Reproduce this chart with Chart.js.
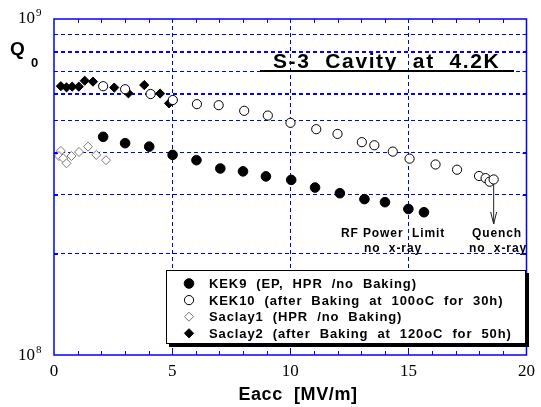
<!DOCTYPE html>
<html><head><meta charset="utf-8">
<script src="https://cdn.jsdelivr.net/npm/chart.js@4/dist/chart.umd.min.js"></script>
<style>html,body{margin:0;padding:0;background:#fff}#wrap{width:541px;height:407px;position:relative}</style>
</head><body><div id="wrap"><canvas id="c" width="541" height="407"></canvas></div>
<script>
// ---- data (Eacc in MV/m, Q0) ----
const kek9E  = [2.08, 3.01, 4.03, 5.02, 6.03, 7.04, 8.00, 8.97, 10.04, 11.05, 12.10, 13.14, 14.01, 15.00, 15.66];
const kek9Q  = [4.46e8, 4.27e8, 4.17e8, 3.94e8, 3.80e8, 3.59e8, 3.52e8, 3.40e8, 3.32e8, 3.15e8, 3.03e8, 2.91e8, 2.85e8, 2.72e8, 2.66e8];
const kek10E = [2.08, 3.01, 4.09, 5.03, 6.05, 6.97, 8.05, 9.05, 10.01, 11.10, 12.00, 13.03, 13.56, 14.34, 15.05, 16.15, 17.06, 17.99, 18.27, 18.44, 18.61];
const kek10Q = [6.31e8, 6.18e8, 5.98e8, 5.74e8, 5.58e8, 5.54e8, 5.33e8, 5.16e8, 4.91e8, 4.70e8, 4.55e8, 4.30e8, 4.21e8, 4.03e8, 3.84e8, 3.69e8, 3.56e8, 3.41e8, 3.36e8, 3.28e8, 3.33e8];
const saclay1E = [0.29, 0.21, 0.39, 0.53, 0.74, 1.06, 1.44, 1.79, 2.20];
const saclay1Q = [4.05e8, 3.91e8, 3.85e8, 3.72e8, 3.91e8, 4.02e8, 4.17e8, 3.94e8, 3.80e8];
const saclay2E = [0.29, 0.53, 0.77, 1.05, 1.30, 1.65, 2.55, 3.15, 3.82, 4.49, 4.87];
const saclay2Q = [6.31e8, 6.26e8, 6.29e8, 6.29e8, 6.55e8, 6.51e8, 6.25e8, 6.01e8, 6.36e8, 6.00e8, 5.61e8];
const seriesLabels = ["KEK9  (EP,  HPR  /no  Baking)", "KEK10  (after  Baking  at  100oC  for  30h)", "Saclay1  (HPR  /no  Baking)", "Saclay2  (after  Baking  at  120oC  for  50h)"];
const xTickLabels = [0, 5, 10, 15, 20];
const yGridValues = [1e8, 2e8, 3e8, 4e8, 5e8, 6e8, 7e8, 8e8, 9e8, 1e9];
const yTickLabels = [["10","8"], ["10","9"]];
const titleText = "S-3  Cavity  at  4.2K";
const xTitle = "Eacc  [MV/m]";
const notes = [["RF Power  Limit", "no  x-ray"], ["Quench", "no  x-ray"]];

const BLUE = '#0000ff';
const SANS = '"Liberation Sans", Arial, sans-serif';
const SERIF = '"Liberation Serif", "Times New Roman", serif';
const pts = (xs, ys) => xs.map((x, i) => ({x, y: ys[i]}));

const styles = [
  {pointStyle:'circle', radius:4.8, backgroundColor:'#000', borderColor:'#000', borderWidth:1},
  {pointStyle:'circle', radius:4.6, backgroundColor:'#fff', borderColor:'#000', borderWidth:1},
  {pointStyle:'rectRot', radius:4.5, backgroundColor:'#fff', borderColor:'#777', borderWidth:1},
  {pointStyle:'rectRot', radius:4.6, backgroundColor:'#000', borderColor:'#000', borderWidth:1}
];
const dataSets = [pts(kek9E,kek9Q), pts(kek10E,kek10Q), pts(saclay1E,saclay1Q), pts(saclay2E,saclay2Q)];

const decor = {
  id: 'decor',
  afterDraw(chart) {
    const ctx = chart.ctx, a = chart.chartArea, xs = chart.scales.x, ys = chart.scales.y;
    ctx.save();
    // frame
    ctx.strokeStyle = BLUE; ctx.lineWidth = 1.5; ctx.setLineDash([]);
    ctx.strokeRect(a.left, a.top, a.right - a.left, a.bottom - a.top);
    // minor ticks (inward)
    ctx.lineWidth = 1;
    ctx.beginPath();
    for (let v = 1; v < 20; v++) {
      const px = Math.round(xs.getPixelForValue(v)) + 0.5;
      ctx.moveTo(px, a.bottom); ctx.lineTo(px, a.bottom - 4);
      ctx.moveTo(px, a.top); ctx.lineTo(px, a.top + 4);
    }
    yGridValues.slice(1, -1).forEach(v => {
      const py = Math.round(ys.getPixelForValue(v)) + 0.5;
      ctx.moveTo(a.left, py); ctx.lineTo(a.left + 4, py);
      ctx.moveTo(a.right, py); ctx.lineTo(a.right - 4, py);
    });
    ctx.stroke();
    // y tick labels 10^8, 10^9
    ctx.fillStyle = '#000'; ctx.textBaseline = 'alphabetic'; ctx.textAlign = 'left';
    [1e8, 1e9].forEach((v, i) => {
      const py = ys.getPixelForValue(v);
      const base = i === 0 ? py + 5 : py + 4;
      ctx.font = '17px ' + SERIF;
      ctx.fillText(yTickLabels[i][0], 18, base);
      ctx.font = '11px ' + SERIF;
      ctx.fillText(yTickLabels[i][1], 36, base - 7);
    });
    // y title Q0
    ctx.font = 'bold 19px ' + SANS;
    ctx.fillText('Q', 10, 55);
    ctx.font = 'bold 13px ' + SANS;
    ctx.fillText('0', 31, 67);
    // x title
    ctx.font = 'bold 18px ' + SANS;
    ctx.letterSpacing = '0.6px';
    ctx.textAlign = 'center';
    ctx.fillText(xTitle, 298, 400);
    // plot title with underline
    ctx.textAlign = 'left';
    ctx.font = 'bold 21px ' + SANS;
    ctx.letterSpacing = '1.6px';
    ctx.fillText(titleText, 273, 68);
    ctx.fillRect(260, 70, 254, 2);
    // annotations
    ctx.font = 'bold 12px ' + SANS;
    ctx.letterSpacing = '0.9px';
    ctx.textAlign = 'center';
    ctx.fillText(notes[0][0], 393, 237);
    ctx.fillText(notes[0][1], 393, 252);
    ctx.fillText(notes[1][0], 497, 237);
    ctx.fillText(notes[1][1], 498, 252);
    ctx.letterSpacing = '0px';
    // arrow
    const ax = xs.getPixelForValue(18.61);
    ctx.strokeStyle = '#222'; ctx.lineWidth = 1;
    ctx.beginPath();
    ctx.moveTo(ax, 184); ctx.lineTo(ax, 224);
    ctx.moveTo(ax - 3, 212); ctx.lineTo(ax, 224); ctx.lineTo(ax + 3, 212);
    ctx.stroke();
    // legend
    ctx.fillStyle = '#000';
    ctx.fillRect(169, 273, 360, 74);
    ctx.fillStyle = '#fff';
    ctx.fillRect(166, 270, 360, 74);
    ctx.strokeStyle = '#000'; ctx.lineWidth = 1;
    ctx.strokeRect(166.5, 270.5, 359, 73);
    ctx.font = 'bold 13px ' + SANS;
    ctx.letterSpacing = '0.9px';
    ctx.textAlign = 'left'; ctx.textBaseline = 'middle';
    seriesLabels.forEach((lab, i) => {
      const y = 283.5 + i * 16.6;
      const s = styles[i];
      ctx.fillStyle = s.backgroundColor; ctx.strokeStyle = s.borderColor; ctx.lineWidth = 1;
      Chart.helpers.drawPoint(ctx, {pointStyle: s.pointStyle, radius: s.radius, rotation: 0, borderWidth: 1}, 189, y);
      ctx.fillStyle = '#000';
      ctx.fillText(lab, 209, y + 1);
    });
    ctx.restore();
  }
};

new Chart(document.getElementById('c'), {
  type: 'scatter',
  data: {
    datasets: dataSets.map((d, i) => ({label: seriesLabels[i], data: d,
      pointStyle: styles[i].pointStyle, pointRadius: styles[i].radius, pointHoverRadius: styles[i].radius,
      pointBackgroundColor: styles[i].backgroundColor, pointBorderColor: styles[i].borderColor,
      pointBorderWidth: styles[i].borderWidth, showLine: false}))
  },
  options: {
    responsive: false, animation: false, devicePixelRatio: 1,
    layout: {padding: {top: 19, right: 9, left: 0, bottom: 0}},
    plugins: {legend: {display: false}, tooltip: {enabled: false}},
    scales: {
      x: {
        type: 'linear', min: 0, max: 20,
        afterFit: s => { s.height = 52; },
        ticks: {stepSize: 5, autoSkip: false, maxRotation: 0, color: '#000', padding: 6,
          font: {family: SERIF, size: 17},
          callback: (v) => xTickLabels.includes(v) ? String(v) : ''},
        grid: {drawTicks: false, color: c => (c.tick && [5,10,15].includes(c.tick.value)) ? BLUE : 'rgba(0,0,0,0)', lineWidth: 1},
        border: {display: false, dash: [4, 3]}
      },
      y: {
        type: 'logarithmic', min: 1e8, max: 1e9,
        afterFit: s => { s.width = 54; },
        afterBuildTicks: s => { s.ticks = yGridValues.map(v => ({value: v})); },
        ticks: {display: false},
        grid: {drawTicks: false,
          color: c => { if (!c.tick) return 'rgba(0,0,0,0)'; const k = Math.round(c.tick.value / 1e8); return (k >= 2 && k <= 9) ? BLUE : 'rgba(0,0,0,0)'; },
          lineWidth: c => { if (!c.tick) return 1; const k = Math.round(c.tick.value / 1e8); return (k === 6 || k === 8) ? 2 : 1; }},
        border: {display: false, dash: [4, 3]}
      }
    }
  },
  plugins: [decor]
});
</script></body></html>
